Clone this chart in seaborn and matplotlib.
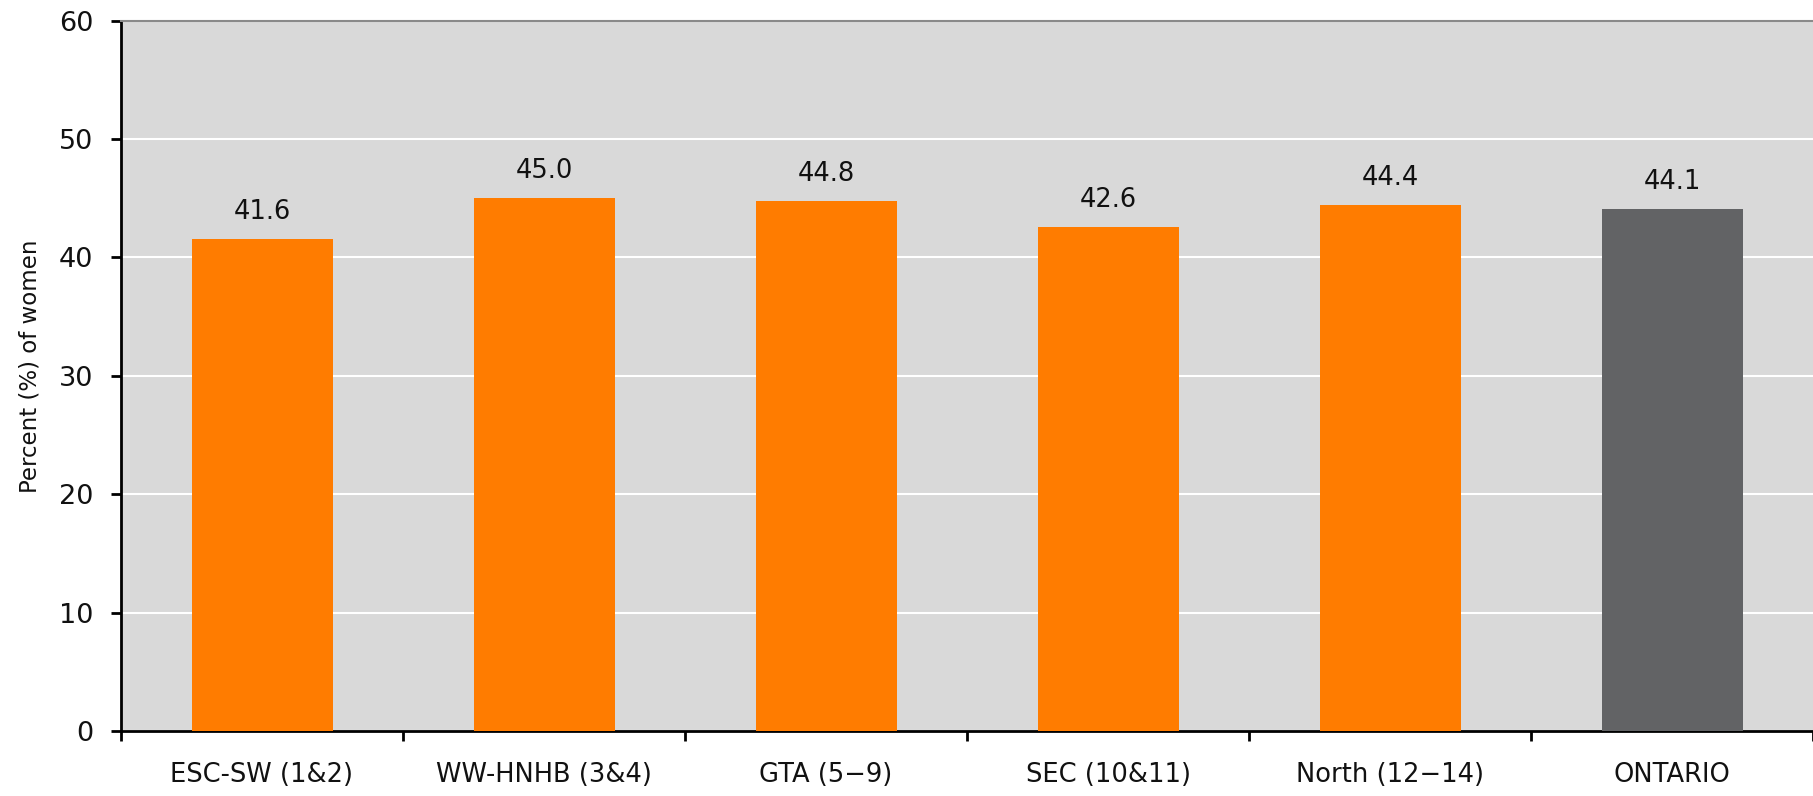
import matplotlib
matplotlib.use("Agg")
import matplotlib.pyplot as plt
import seaborn as sns
import pandas as pd
import numpy as np
from matplotlib.ticker import FixedLocator

categories = ["ESC-SW (1&2)", "WW-HNHB (3&4)", "GTA (5\u22129)", "SEC (10&11)", "North (12\u221214)", "ONTARIO"]
values = [41.6, 45.0, 44.8, 42.6, 44.4, 44.1]
colors = ["#FF7C00", "#FF7C00", "#FF7C00", "#FF7C00", "#FF7C00", "#626365"]
y_ticks = [0, 10, 20, 30, 40, 50, 60]
y_label = "Percent (%) of women"

sns.set_theme(style="white")
plt.rcParams["font.family"] = ["DejaVu Sans"]

df = pd.DataFrame({"region": categories, "pct": values})

fig = plt.figure(figsize=(18.13, 7.96), dpi=100)
ax = fig.add_axes([121 / 1813, 1 - 731 / 796, 1 - 121 / 1813, (731 - 20.7) / 796])
ax.set_facecolor("#D9D9D9")

sns.barplot(data=df, x="region", y="pct", hue="region", palette=colors,
            order=categories, hue_order=categories, width=0.5, legend=False,
            saturation=1, linewidth=0, ax=ax, zorder=3)

ax.set_xlim(-0.5, len(categories) - 0.5)
ax.set_ylim(0, 60)
ax.set_yticks(y_ticks)
ax.yaxis.grid(True, color="white", linewidth=1.5, zorder=0)
ax.set_axisbelow(True)

for p, v in zip(ax.patches, values):
    ax.annotate(f"{v:.1f}", (p.get_x() + p.get_width() / 2, p.get_height()),
                xytext=(0, 10), textcoords="offset points", ha="center", va="bottom",
                fontsize=18.5, color="#111111")

ax.set_xlabel("")
ax.set_ylabel(y_label, fontsize=16.5, color="#111111")
ax.yaxis.set_label_coords(-0.047, 0.513)
ax.tick_params(axis="x", which="major", length=0, pad=22, labelsize=18.5, labelcolor="#111111")
ax.xaxis.set_minor_locator(FixedLocator(np.arange(-0.5, len(categories), 1.0)))
ax.tick_params(axis="x", which="minor", length=7, width=2, color="black", direction="out", bottom=True)
ax.tick_params(axis="y", which="major", length=7, width=2, color="black", direction="out",
               left=True, pad=13, labelsize=19.5, labelcolor="#111111")

for s in ["left", "bottom"]:
    ax.spines[s].set_color("black")
    ax.spines[s].set_linewidth(2)
ax.spines["top"].set_visible(True)
ax.spines["top"].set_color("#8A8A8A")
ax.spines["top"].set_linewidth(1.5)
ax.spines["right"].set_visible(False)

fig.savefig("out.png", dpi=100, facecolor="white")
